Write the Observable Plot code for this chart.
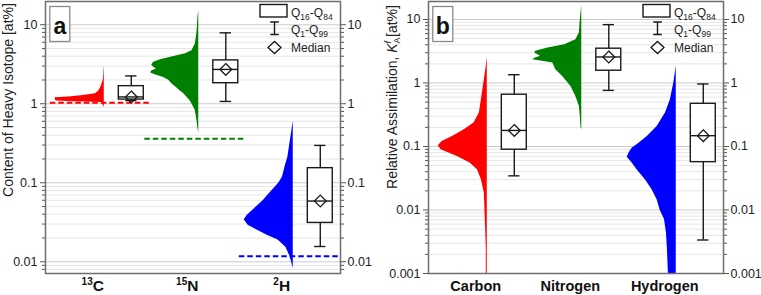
<!DOCTYPE html>
<html><head><meta charset="utf-8">
<script src="https://cdn.jsdelivr.net/npm/d3@7"></script>
<script src="https://cdn.jsdelivr.net/npm/@observablehq/plot@0.6"></script>
<style>
body{margin:0;background:#fff;}
#wrap{display:flex;width:761px;height:295px;overflow:hidden;}
svg{font-family:"Liberation Sans",Arial,sans-serif;display:block;}
</style></head><body><div id="wrap"></div>
<script>
// ---------- data ----------
const catsA = ["13C", "15N", "2H"];
const catsB = ["Carbon", "Nitrogen", "Hydrogen"];
const colors = ["#ff0000", "#008000", "#0000ff"];
const majorA = [0.01, 0.1, 1, 10];
const majorB = [0.001, 0.01, 0.1, 1, 10];

// distributions: [value, relative density]
const distA13C = [[3.05,0],[2.5,0.01],[2.0,0.02],[1.62,0.07],[1.43,0.12],[1.34,0.18],[1.26,0.47],[1.22,0.73],[1.19,1.0],[1.13,1.0],[1.08,0.98],[1.06,0.61],[1.045,0.2],[1.035,0.04],[0.95,0.02],[0.9,0]];
const distA15N = [[15.2,0],[12,0.02],[9,0.03],[7.7,0.04],[5.7,0.07],[4.7,0.14],[4.3,0.27],[3.9,0.55],[3.6,0.78],[3.36,0.92],[3.1,0.96],[2.9,0.92],[2.75,0.86],[2.6,0.96],[2.45,0.98],[2.3,0.86],[2.17,0.73],[1.98,0.61],[1.79,0.55],[1.6,0.45],[1.47,0.39],[1.35,0.31],[1.21,0.24],[1.1,0.18],[1.0,0.14],[0.82,0.07],[0.6,0.035],[0.5,0.02],[0.43,0]];
const distA2H = [[0.60,0],[0.45,0.03],[0.31,0.07],[0.21,0.11],[0.157,0.17],[0.118,0.22],[0.1,0.29],[0.088,0.37],[0.066,0.55],[0.0597,0.61],[0.049,0.76],[0.0386,0.94],[0.034,1.0],[0.0289,0.92],[0.025,0.73],[0.0217,0.53],[0.0188,0.31],[0.0153,0.15],[0.0118,0.07],[0.0102,0.04],[0.0082,0]];
const distBC = [[2.57,0],[1.83,0.02],[1.0,0.07],[0.545,0.12],[0.34,0.16],[0.234,0.27],[0.184,0.47],[0.144,0.71],[0.12,0.92],[0.1025,1.0],[0.089,0.94],[0.0697,0.61],[0.055,0.35],[0.043,0.2],[0.03,0.12],[0.0186,0.06],[0.01,0.047],[0.0043,0.03],[0.0024,0.02],[0.001,0.02]];
const distBN = [[16.6,0],[9.9,0.03],[6.1,0.05],[4.8,0.12],[4.0,0.35],[3.56,0.69],[3.15,0.94],[2.97,0.96],[2.63,0.84],[2.45,0.96],[2.33,1.0],[2.15,0.71],[2.07,0.59],[1.62,0.53],[1.27,0.39],[0.88,0.22],[0.615,0.12],[0.43,0.05],[0.3,0.03],[0.2,0.016],[0.184,0]];
const distBH = [[1.83,0],[1.0,0.05],[0.545,0.12],[0.337,0.22],[0.207,0.39],[0.144,0.59],[0.113,0.76],[0.094,0.9],[0.08,0.96],[0.068,1.0],[0.055,0.9],[0.043,0.8],[0.03,0.63],[0.0207,0.49],[0.0145,0.39],[0.01,0.33],[0.0071,0.24],[0.0044,0.2],[0.0024,0.18],[0.001,0.16]];

// box statistics
const q01A = [1.10, 1.07, 0.0156];
const q16A = [1.13, 1.82, 0.031];
const medA = [1.22, 2.72, 0.0587];
const q84A = [1.67, 3.54, 0.153];
const q99A = [2.25, 7.9, 0.297];
const naturalA = [1.03, 0.36, 0.0117];

const q01B = [0.0345, 0.765, 0.00337];
const q16B = [0.089, 1.56, 0.0567];
const medB = [0.179, 2.57, 0.148];
const q84B = [0.654, 3.47, 0.47];
const q99B = [1.35, 8.3, 0.965];

// ---------- layout constants ----------
const W = 0.519, BOX = 0.286, BW = 0.132, CAP = 0.06, LAB = -0.122, DASH1 = -0.571, DASH2 = 0.491;
const ink = "#1a1a1a";

function panel({cats, dists, q01, q16, med, q84, q99, natural, domain, width, ml, mr, majors, catSize}) {
  const idx = cats.map((_, i) => i);
  const rows = idx.map(i => ({i, q01: q01[i], q16: q16[i], med: med[i], q84: q84[i], q99: q99[i]}));
  const [lo, hi] = domain;
  const minors = [];
  for (let e = -4; e <= 1; e++) for (let k = 2; k <= 9; k++) { const v = k * 10 ** e; if (v > lo && v < hi) minors.push(v); }
  const marks = [
    Plot.gridY({ticks: minors, stroke: "#e6e6e6", strokeOpacity: 1}),
    Plot.gridY({ticks: majors, stroke: "#cbcbcb", strokeOpacity: 1}),
  ];
  dists.forEach((dist, i) => marks.push(Plot.areaX(dist, {y: d => d[0], x1: d => i - d[1] * W, x2: () => i, fill: colors[i], curve: "linear"})));
  if (natural) idx.forEach(i => marks.push(Plot.ruleY([natural[i]], {y: d => d, x1: () => i + DASH1, x2: () => i + DASH2, stroke: colors[i], strokeWidth: 2, strokeDasharray: "5.5,3"})));
  const bx = d => d.i + BOX;
  marks.push(
    Plot.ruleX(rows, {x: bx, y1: "q01", y2: "q16", stroke: ink, strokeWidth: 1.4}),
    Plot.ruleX(rows, {x: bx, y1: "q84", y2: "q99", stroke: ink, strokeWidth: 1.4}),
    Plot.ruleY(rows, {y: "q01", x1: d => bx(d) - CAP, x2: d => bx(d) + CAP, stroke: ink, strokeWidth: 1.4}),
    Plot.ruleY(rows, {y: "q99", x1: d => bx(d) - CAP, x2: d => bx(d) + CAP, stroke: ink, strokeWidth: 1.4}),
    Plot.rect(rows, {x1: d => bx(d) - BW, x2: d => bx(d) + BW, y1: "q16", y2: "q84", fill: "white", stroke: ink, strokeWidth: 1.4}),
    Plot.ruleY(rows, {y: "med", x1: d => bx(d) - BW, x2: d => bx(d) + BW, stroke: ink, strokeWidth: 1.4}),
    Plot.dot(rows, {x: bx, y: "med", symbol: "diamond2", r: 5.3, stroke: ink, fill: "none", strokeWidth: 1.3}),
    Plot.axisY({anchor: "left", ticks: majors, tickFormat: d => String(d), tickSize: 5, tickPadding: 3, label: null, stroke: "#555", fill: "#222"}),
    Plot.axisY({anchor: "left", ticks: minors, tickFormat: () => "", tickSize: 3, label: null, stroke: "#555"}),
    Plot.axisY({anchor: "right", ticks: majors, tickFormat: d => String(d), tickSize: 5, tickPadding: 2, label: null, stroke: "#555", fill: "#222"}),
    Plot.axisY({anchor: "right", ticks: minors, tickFormat: () => "", tickSize: 3, label: null, stroke: "#555"}),
    Plot.text(cats, {x: (d, i) => i + LAB, frameAnchor: "bottom", lineAnchor: "bottom", dy: 17, text: d => d, fontWeight: "bold", fontSize: catSize, fill: "#111", className: "cat"}),
    Plot.frame({stroke: "#6e6e6e", strokeWidth: 1.5})
  );
  return Plot.plot({
    width, height: 295, marginLeft: ml, marginRight: mr, marginTop: 1, marginBottom: 22,
    x: {domain: [-0.622, 2.5], axis: null},
    y: {type: "log", domain},
    style: {fontSize: "12.5px", fontFamily: '"Liberation Sans", Arial, sans-serif', background: "white", overflow: "visible"},
    marks
  });
}

function addQ(t, a, b) {
  t.append("tspan").text("Q");
  t.append("tspan").attr("font-size", 8.5).attr("dy", 3).text(a);
  t.append("tspan").attr("dy", -3).text("-Q");
  t.append("tspan").attr("font-size", 8.5).attr("dy", 3).text(b);
}
function decorate(el, ml, letter) {
  const svg = d3.select(el);
  // panel letter
  const lg = svg.append("g");
  lg.append("rect").attr("x", ml + 4.8).attr("y", 6.5).attr("width", 20).attr("height", 35).attr("fill", "white").attr("stroke", "#8a8a8a").attr("stroke-width", 1.3);
  lg.append("text").attr("x", ml + 14.8).attr("y", 33.5).attr("text-anchor", "middle").attr("font-size", 23).attr("font-weight", "bold").attr("fill", "#111").text(letter);
  // legend
  const g = svg.append("g").attr("font-size", 12).attr("fill", "#222").attr("text-anchor", "start");
  const x0 = ml + 215, cx = x0 + 14.5;
  g.append("rect").attr("x", x0).attr("y", 4.5).attr("width", 27).attr("height", 12.5).attr("fill", "white").attr("stroke", ink).attr("stroke-width", 1.4);
  addQ(g.append("text").attr("x", x0 + 31).attr("y", 17), "16", "84");
  g.append("path").attr("d", `M${cx-4.3},22H${cx+4.3}M${cx},22V34.5M${cx-4.3},34.5H${cx+4.3}`).attr("stroke", ink).attr("stroke-width", 1.4).attr("fill", "none");
  addQ(g.append("text").attr("x", x0 + 31).attr("y", 34), "1", "99");
  g.append("path").attr("d", `M${cx-6.5},47.5L${cx},41.5L${cx+6.5},47.5L${cx},53.5Z`).attr("fill", "none").attr("stroke", ink).attr("stroke-width", 1.3);
  g.append("text").attr("x", x0 + 31).attr("y", 51.5).text("Median");
}

const wrap = document.getElementById("wrap");
const A = panel({cats: catsA, dists: [distA13C, distA15N, distA2H], q01: q01A, q16: q16A, med: medA, q84: q84A, q99: q99A, natural: naturalA, domain: [0.0071, 19.7], width: 380, ml: 45, mr: 40, majors: majorA, catSize: 15.5});
const B = panel({cats: catsB, dists: [distBC, distBN, distBH], q01: q01B, q16: q16B, med: medB, q84: q84B, q99: q99B, natural: null, domain: [0.001, 19.2], width: 381, ml: 48, mr: 38, majors: majorB, catSize: 14.5});
wrap.appendChild(A); wrap.appendChild(B);

// superscript isotope labels
d3.select(A).selectAll(".cat text").each(function() {
  const s = this.textContent, m = s.match(/^(\d+)(\D+)$/);
  if (!m) return;
  const t = d3.select(this); t.text(null);
  t.append("tspan").attr("font-size", 10).attr("dy", -6).text(m[1]);
  t.append("tspan").attr("dy", 6).text(m[2]);
});

decorate(A, 45, "a");
decorate(B, 48, "b");

// y titles
d3.select(A).append("text").attr("transform", "translate(13,100) rotate(-90)").attr("text-anchor", "middle").attr("font-size", 14).attr("fill", "#222").text("Content of Heavy Isotope [at%]");
const tb = d3.select(B).append("text").attr("transform", "translate(17,97) rotate(-90)").attr("text-anchor", "middle").attr("font-size", 14).attr("fill", "#222");
tb.append("tspan").text("Relative Assimilation, ");
tb.append("tspan").attr("font-style", "italic").text("K");
tb.append("tspan").attr("font-size", 9).attr("dy", 3).text("A");
tb.append("tspan").attr("font-size", 9).attr("font-style", "italic").attr("dx", -6).attr("dy", -9).text("f");
tb.append("tspan").attr("dy", 6).text(" [at%]");
</script></body></html>
